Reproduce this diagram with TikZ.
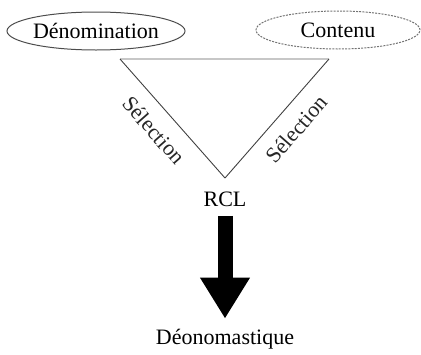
\documentclass[tikz,border=0pt]{standalone}
\usepackage{fontspec}
\setmainfont{Liberation Serif}
\usetikzlibrary{shapes.geometric,arrows.meta}

\begin{document}
\begin{tikzpicture}[x=0.5pt, y=-0.5pt,
    font=\fontsize{11}{13}\selectfont,
    pole/.style = {ellipse, draw=black!70, line width=0.5pt, inner sep=0pt,
                   minimum width=86pt, minimum height=19pt},
    side/.style = {draw=black!75, line width=0.45pt},
    lab/.style = {sloped, below=3.4pt, text=black!85}]
    \useasboundingbox (0,0) rectangle (421,354);
    \node[pole] (den) at (96,31) {Dénomination};
    \node[pole, draw=black!55, dash pattern=on 1pt off 0.6pt, minimum width=82pt] (con) at (338,30) {Contenu};
    \coordinate (tl) at (120,59);
    \coordinate (tr) at (329,59);
    \coordinate (bt) at (225,178);
    \draw[black!22, line width=0.8pt] (tl) -- (tr);
    \draw[side] (tl) -- node[lab, pos=0.48] {Sélection} (bt);
    \draw[side] (bt) -- node[lab, pos=0.53] {Sélection} (tr);
    \node (rcl) at (225,199.5) {RCL};
    \node[anchor=base] (deo) at (225,344) {Déonomastique};
    \draw[line width=7.5pt, -{Triangle[width=23.5pt, length=20.5pt]},
          shorten <=1pt, shorten >=1.5pt] (rcl) -- (deo);
\end{tikzpicture}
\end{document}
